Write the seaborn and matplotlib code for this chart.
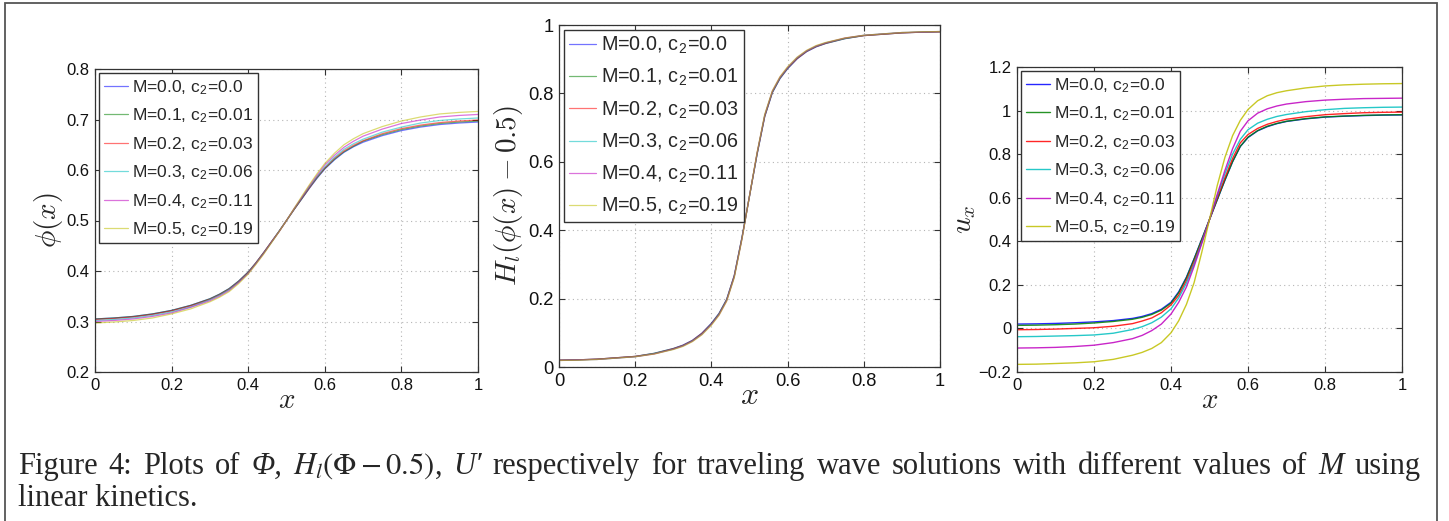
import matplotlib
matplotlib.use("Agg")
import matplotlib.pyplot as plt
import numpy as np
import pandas as pd
import seaborn as sns
from matplotlib.lines import Line2D
from matplotlib.patches import Rectangle

sns.set_style("ticks")
plt.rcParams["font.family"] = ["Liberation Sans", "DejaVu Sans"]
plt.rcParams["mathtext.fontset"] = "cm"

# ---------------------------------------------------------------- data
x_pos = [0.0, 0.05, 0.1, 0.15, 0.2, 0.25, 0.3, 0.325, 0.35, 0.375, 0.4,
         0.42, 0.44, 0.46, 0.48, 0.5, 0.52, 0.54, 0.56, 0.58, 0.6,
         0.625, 0.65, 0.675, 0.7, 0.75, 0.8, 0.85, 0.9, 0.95, 1.0]

labels = [r"M=0.0, c$_\mathregular{2}$=0.0",
          r"M=0.1, c$_\mathregular{2}$=0.01",
          r"M=0.2, c$_\mathregular{2}$=0.03",
          r"M=0.3, c$_\mathregular{2}$=0.06",
          r"M=0.4, c$_\mathregular{2}$=0.11",
          r"M=0.5, c$_\mathregular{2}$=0.19"]

colors = ["#0000ff", "#008000", "#ff0000", "#00bfbf", "#bf00bf", "#bfbf00"]

# phase field phi(x)
phi_rows = [
    [.305, .307, .310, .315, .322, .332, .345, .354, .365, .380, .398, .416, .436, .457, .478, .500,
     .522, .543, .564, .584, .602, .620, .635, .646, .655, .668, .678, .685, .690, .693, .695],
    [.305, .307, .310, .315, .322, .332, .345, .354, .365, .380, .398, .416, .436, .457, .478, .500,
     .522, .543, .565, .585, .603, .621, .636, .647, .657, .670, .680, .687, .692, .695, .697],
    [.304, .306, .309, .314, .321, .331, .344, .353, .364, .379, .397, .416, .436, .457, .478, .500,
     .522, .544, .565, .586, .604, .623, .638, .649, .658, .672, .682, .689, .694, .697, .699],
    [.302, .304, .307, .312, .319, .329, .343, .352, .363, .378, .396, .415, .435, .456, .478, .500,
     .523, .545, .567, .587, .606, .625, .641, .652, .661, .675, .685, .693, .698, .701, .703],
    [.300, .302, .305, .310, .317, .328, .341, .350, .361, .377, .395, .414, .434, .456, .477, .500,
     .524, .546, .569, .590, .610, .629, .645, .657, .667, .681, .692, .699, .705, .708, .710],
    [.297, .299, .302, .307, .315, .325, .339, .348, .359, .375, .394, .413, .433, .455, .477, .500,
     .524, .548, .571, .593, .613, .633, .650, .662, .672, .686, .697, .705, .711, .714, .716],
]

# smoothed Heaviside H_l(phi(x) - 0.5)
h_rows = [
    [.020, .021, .023, .027, .031, .040, .054, .064, .078, .099, .128, .157, .198, .268, .378, .500,
     .622, .732, .802, .843, .872, .901, .922, .936, .946, .960, .969, .973, .977, .979, .980],
    [.020, .021, .023, .027, .031, .040, .054, .063, .077, .098, .127, .156, .197, .267, .377, .500,
     .623, .733, .803, .844, .873, .902, .923, .937, .946, .960, .969, .973, .977, .979, .980],
    [.020, .021, .023, .027, .031, .039, .053, .063, .077, .098, .126, .155, .196, .266, .376, .500,
     .624, .734, .804, .845, .874, .902, .923, .937, .947, .961, .969, .973, .977, .979, .980],
    [.019, .021, .022, .026, .030, .039, .052, .062, .076, .096, .125, .154, .195, .264, .375, .500,
     .625, .736, .805, .846, .875, .904, .924, .938, .948, .961, .970, .974, .978, .979, .981],
    [.019, .021, .022, .026, .030, .038, .052, .061, .075, .095, .124, .152, .193, .263, .373, .500,
     .627, .737, .807, .848, .876, .905, .925, .939, .948, .962, .970, .974, .978, .979, .981],
    [.019, .020, .022, .026, .030, .038, .051, .060, .074, .094, .122, .151, .192, .261, .372, .500,
     .628, .739, .808, .849, .878, .906, .926, .940, .949, .962, .970, .974, .978, .980, .981],
]

# displacement gradient u_x
ux_rows = [
    [.020, .021, .023, .026, .030, .036, .046, .055, .068, .088, .120, .168, .235, .320, .410, .500,
     .590, .680, .765, .835, .876, .907, .926, .940, .950, .962, .970, .974, .977, .979, .980],
    [.014, .015, .017, .020, .025, .032, .042, .051, .064, .084, .116, .164, .232, .318, .409, .500,
     .591, .681, .766, .836, .878, .908, .928, .941, .951, .963, .971, .975, .978, .980, .981],
    [-.006, -.005, -.003, .000, .003, .010, .022, .034, .048, .072, .108, .152, .220, .305, .400, .500,
     .598, .692, .780, .852, .890, .918, .937, .950, .960, .972, .981, .986, .990, .992, .993],
    [-.038, -.037, -.035, -.033, -.030, -.022, -.005, .008, .026, .052, .090, .140, .208, .295, .395, .500,
     .608, .710, .800, .868, .912, .942, .960, .973, .982, .995, 1.004, 1.010, 1.013, 1.015, 1.016],
    [-.090, -.089, -.087, -.083, -.077, -.065, -.047, -.032, -.010, .020, .066, .120, .190, .285, .390, .500,
     .615, .725, .825, .905, .953, .988, 1.008, 1.021, 1.030, 1.041, 1.048, 1.052, 1.055, 1.056, 1.057],
    [-.165, -.164, -.161, -.158, -.153, -.142, -.123, -.110, -.092, -.065, -.020, .035, .110, .210, .350, .500,
     .655, .785, .885, .955, 1.005, 1.045, 1.068, 1.082, 1.091, 1.104, 1.113, 1.118, 1.121, 1.123, 1.124],
]

x_ticks = [0, 0.2, 0.4, 0.6, 0.8, 1]
x_ticklabels = ["0", "0.2", "0.4", "0.6", "0.8", "1"]
phi_ticks = [0.2, 0.3, 0.4, 0.5, 0.6, 0.7, 0.8]
phi_ticklabels = ["0.2", "0.3", "0.4", "0.5", "0.6", "0.7", "0.8"]
h_ticks = [0, 0.2, 0.4, 0.6, 0.8, 1]
h_ticklabels = ["0", "0.2", "0.4", "0.6", "0.8", "1"]
ux_ticks = [-0.2, 0, 0.2, 0.4, 0.6, 0.8, 1.0, 1.2]
ux_ticklabels = ["\u22120.2", "0", "0.2", "0.4", "0.6", "0.8", "1", "1.2"]

# caption words: (text, italic)
caption_line1 = [("Figure", False), ("4:", False), ("Plots", False), ("of", False),
                 ("\u03a6,", True), (r"$H_l(\Phi-0.5)$,", False), ("U\u2032", True),
                 ("respectively", False), ("for", False), ("traveling", False),
                 ("wave", False), ("solutions", False), ("with", False),
                 ("different", False), ("values", False), ("of", False),
                 ("M", True), ("using", False)]
caption_line2 = "linear kinetics."


def long_frame(rows):
    recs = []
    for lab, vals in zip(labels, rows):
        for xv, yv in zip(x_pos, vals):
            recs.append({"x": xv, "y": yv, "series": lab})
    return pd.DataFrame(recs)


# ---------------------------------------------------------------- figure
fig = plt.figure(figsize=(14.49, 5.21), dpi=100)
W, H = 1449, 521


def px_axes(left, top, right, bottom):
    return fig.add_axes([left / W, 1 - bottom / H, (right - left) / W, (bottom - top) / H])


panels = [
    dict(box=(95, 69, 478, 372), rows=phi_rows, ylim=(0.2, 0.8), yticks=phi_ticks,
         yticklabels=phi_ticklabels, ylabel=r"$\phi(x)$", ylab_x=-0.078, lw=0.9, alpha=0.55,
         tick_fs=12, leg_fs=12.5, xlab_fs=21),
    dict(box=(559, 25, 940, 367), rows=h_rows, ylim=(0, 1), yticks=h_ticks,
         yticklabels=h_ticklabels, ylabel=r"$H_l(\phi(x)-0.5)$", ylab_x=-0.09, lw=0.9, alpha=0.55,
         tick_fs=13.2, leg_fs=14.2, xlab_fs=23),
    dict(box=(1017, 67, 1402, 372), rows=ux_rows, ylim=(-0.2, 1.2), yticks=ux_ticks,
         yticklabels=ux_ticklabels, ylabel=r"$u_x$", ylab_x=-0.10, lw=1.0, alpha=0.85,
         tick_fs=12, leg_fs=12.5, xlab_fs=21),
]

spine_col = "#333333"
palette = dict(zip(labels, colors))

for p in panels:
    ax = px_axes(*p["box"])
    df = long_frame(p["rows"])
    sns.lineplot(data=df, x="x", y="y", hue="series", hue_order=labels, palette=palette,
                 estimator=None, sort=True, legend=False, ax=ax,
                 linewidth=p["lw"], alpha=p["alpha"])
    ax.set_xlim(0, 1)
    ax.set_ylim(*p["ylim"])
    ax.set_xticks(x_ticks)
    ax.set_xticklabels(x_ticklabels)
    ax.set_yticks(p["yticks"])
    ax.set_yticklabels(p["yticklabels"])
    ax.grid(True, linestyle=(0, (1, 3)), color="#b5b5b5", linewidth=0.8)
    ax.tick_params(direction="in", length=4, width=0.8, colors=spine_col,
                   labelcolor="#111111", labelsize=p["tick_fs"], top=True, right=True, pad=4)
    for s in ax.spines.values():
        s.set_color(spine_col)
        s.set_linewidth(0.9)
    ax.set_ylabel(p["ylabel"], fontsize=21)
    ax.yaxis.set_label_coords(p["ylab_x"], 0.5)
    ax.set_xlabel(r"$x$", fontsize=p["xlab_fs"])
    ax.xaxis.set_label_coords(0.5, -0.045 * 303 / (p["box"][3] - p["box"][1]))

    handles = [Line2D([], [], color=c, lw=p["lw"], alpha=p["alpha"]) for c in colors]
    leg = ax.legend(handles, labels, loc="upper left", fontsize=p["leg_fs"], frameon=True,
                    fancybox=False, framealpha=1, edgecolor="#333333",
                    handlelength=1.4, handletextpad=0.25, labelspacing=0.55,
                    borderpad=0.25, borderaxespad=0.25)
    leg.get_frame().set_linewidth(1.0)

# outer frame around figure and caption
fig.patches.append(Rectangle((5 / W, -0.1), (1437 - 5) / W, 1.1 - 3 / H,
                             transform=fig.transFigure, fill=False,
                             edgecolor="#555555", linewidth=1.3))

# caption: first line justified between the margins, second line left aligned
cap_kw = dict(fontsize=22, family=["Liberation Serif", "DejaVu Serif"],
              math_fontfamily="stix", va="baseline", ha="left")
renderer = fig.canvas.get_renderer()
left_px, right_px = 18, 1421
words = [fig.text(0, 1 - 474 / H, w, style="italic" if it else "normal", **cap_kw)
         for w, it in caption_line1]
widths = [w.get_window_extent(renderer).width for w in words]
gap = (right_px - left_px - sum(widths)) / (len(words) - 1)
xpx = left_px
for w, wd in zip(words, widths):
    w.set_x(xpx / W)
    xpx += wd + gap
fig.text(left_px / W, 1 - 506 / H, caption_line2, **cap_kw)

fig.savefig("out.png", dpi=100)
